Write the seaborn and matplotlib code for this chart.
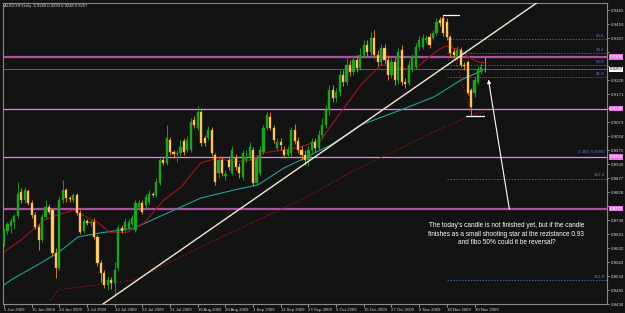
import matplotlib
matplotlib.use("Agg")
import matplotlib.pyplot as plt
import seaborn as sns
import numpy as np
import pandas as pd

# daily AUDCHF candles, one per bar (MT4 keeps Sunday bars)
opens = [0.8650, 0.8692, 0.8709, 0.8723, 0.8744, 0.8828, 0.8800, 0.8832, 0.8790, 0.8748,
         0.8706, 0.8660, 0.8741, 0.8776, 0.8765, 0.8615, 0.8562, 0.8800, 0.8835, 0.8807,
         0.8800, 0.8818, 0.8755, 0.8692, 0.8727, 0.8720, 0.8723, 0.8671, 0.8580, 0.8545,
         0.8503, 0.8520, 0.8510, 0.8562, 0.8702, 0.8695, 0.8702, 0.8716, 0.8695, 0.8776,
         0.8790, 0.8783, 0.8793, 0.8821, 0.8818, 0.8860, 0.8940, 0.8930, 0.9010, 0.8968,
         0.8961, 0.8965, 0.9007, 0.8975, 0.8975, 0.9080, 0.9052, 0.9108, 0.9017, 0.9017,
         0.9045, 0.8958, 0.8895, 0.8940, 0.8884, 0.8940, 0.8895, 0.8947, 0.8916, 0.8881,
         0.8940, 0.8951, 0.8975, 0.8860, 0.8895, 0.8968, 0.9052, 0.9091, 0.9052, 0.8982,
         0.9003, 0.8975, 0.8958, 0.8965, 0.9045, 0.9007, 0.8975, 0.8958, 0.8940, 0.8975,
         0.9003, 0.8982, 0.9028, 0.9063, 0.9115, 0.9185, 0.9157, 0.9178, 0.9238, 0.9213,
         0.9273, 0.9248, 0.9290, 0.9262, 0.9308, 0.9343, 0.9318, 0.9367, 0.9308, 0.9283,
         0.9332, 0.9290, 0.9238, 0.9283, 0.9220, 0.9325, 0.9213, 0.9210, 0.9255, 0.9266,
         0.9336, 0.9336, 0.9360, 0.9371, 0.9367, 0.9385, 0.9430, 0.9437, 0.9423, 0.9371,
         0.9318, 0.9301, 0.9325, 0.9273, 0.9283, 0.9185, 0.9175, 0.9213, 0.9248, 0.9260]
highs = [0.8702, 0.8723, 0.8737, 0.8751, 0.8863, 0.8842, 0.8846, 0.8839, 0.8800, 0.8758,
         0.8716, 0.8751, 0.8800, 0.8786, 0.8772, 0.8632, 0.8814, 0.8870, 0.8842, 0.8814,
         0.8825, 0.8825, 0.8765, 0.8737, 0.8734, 0.8730, 0.8737, 0.8678, 0.8590, 0.8555,
         0.8534, 0.8531, 0.8583, 0.8713, 0.8713, 0.8737, 0.8734, 0.8748, 0.8800, 0.8800,
         0.8800, 0.8821, 0.8835, 0.8828, 0.8877, 0.8947, 0.8947, 0.9063, 0.9021, 0.8975,
         0.8975, 0.9010, 0.9017, 0.9024, 0.9087, 0.9094, 0.9129, 0.9115, 0.9028, 0.9059,
         0.9056, 0.8965, 0.8954, 0.8951, 0.8905, 0.8954, 0.8989, 0.8961, 0.8930, 0.8975,
         0.8975, 0.9003, 0.8986, 0.8958, 0.8989, 0.9063, 0.9108, 0.9108, 0.9063, 0.9017,
         0.9017, 0.8989, 0.8989, 0.9056, 0.9066, 0.9021, 0.8989, 0.8975, 0.8989, 0.9017,
         0.9017, 0.9045, 0.9087, 0.9133, 0.9203, 0.9203, 0.9192, 0.9255, 0.9255, 0.9297,
         0.9290, 0.9308, 0.9308, 0.9332, 0.9360, 0.9360, 0.9388, 0.9395, 0.9325, 0.9346,
         0.9346, 0.9308, 0.9297, 0.9297, 0.9332, 0.9343, 0.9227, 0.9290, 0.9311, 0.9350,
         0.9374, 0.9381, 0.9378, 0.9385, 0.9395, 0.9437, 0.9441, 0.9448, 0.9437, 0.9378,
         0.9332, 0.9339, 0.9336, 0.9283, 0.9290, 0.9192, 0.9231, 0.9269, 0.9280, 0.9299]
lows = [0.8639, 0.8681, 0.8685, 0.8699, 0.8737, 0.8790, 0.8790, 0.8783, 0.8737, 0.8699,
        0.8625, 0.8653, 0.8734, 0.8751, 0.8604, 0.8527, 0.8555, 0.8790, 0.8793, 0.8793,
        0.8793, 0.8748, 0.8681, 0.8685, 0.8713, 0.8709, 0.8664, 0.8569, 0.8513, 0.8492,
        0.8485, 0.8489, 0.8464, 0.8555, 0.8685, 0.8688, 0.8695, 0.8709, 0.8688, 0.8765,
        0.8751, 0.8772, 0.8786, 0.8811, 0.8811, 0.8853, 0.8923, 0.8923, 0.8958, 0.8947,
        0.8933, 0.8954, 0.8958, 0.8968, 0.8968, 0.9052, 0.9045, 0.8989, 0.8989, 0.9010,
        0.8954, 0.8853, 0.8877, 0.8884, 0.8870, 0.8905, 0.8888, 0.8905, 0.8877, 0.8870,
        0.8933, 0.8940, 0.8849, 0.8853, 0.8888, 0.8961, 0.9045, 0.9045, 0.9000, 0.8975,
        0.8975, 0.8947, 0.8947, 0.8954, 0.8996, 0.8965, 0.8940, 0.8923, 0.8919, 0.8965,
        0.8968, 0.8975, 0.9017, 0.9052, 0.9098, 0.9143, 0.9143, 0.9164, 0.9199, 0.9203,
        0.9234, 0.9238, 0.9248, 0.9255, 0.9297, 0.9304, 0.9308, 0.9297, 0.9269, 0.9273,
        0.9276, 0.9220, 0.9227, 0.9203, 0.9206, 0.9203, 0.9192, 0.9203, 0.9248, 0.9259,
        0.9325, 0.9329, 0.9350, 0.9332, 0.9360, 0.9378, 0.9409, 0.9374, 0.9360, 0.9304,
        0.9297, 0.9290, 0.9266, 0.9255, 0.9168, 0.9098, 0.9161, 0.9206, 0.9241, 0.9248]
closes = [0.8695, 0.8716, 0.8727, 0.8744, 0.8821, 0.8800, 0.8835, 0.8790, 0.8748, 0.8706,
          0.8660, 0.8741, 0.8776, 0.8758, 0.8615, 0.8562, 0.8800, 0.8835, 0.8807, 0.8804,
          0.8818, 0.8755, 0.8688, 0.8727, 0.8720, 0.8723, 0.8671, 0.8580, 0.8545, 0.8503,
          0.8520, 0.8510, 0.8555, 0.8702, 0.8692, 0.8723, 0.8723, 0.8737, 0.8790, 0.8790,
          0.8758, 0.8811, 0.8821, 0.8818, 0.8863, 0.8940, 0.8930, 0.9017, 0.8968, 0.8961,
          0.8965, 0.8986, 0.8968, 0.9010, 0.9073, 0.9063, 0.9108, 0.9000, 0.9000, 0.9045,
          0.8965, 0.8863, 0.8940, 0.8895, 0.8891, 0.8916, 0.8975, 0.8916, 0.8895, 0.8965,
          0.8951, 0.8986, 0.8860, 0.8947, 0.8975, 0.9052, 0.9098, 0.9052, 0.9010, 0.9003,
          0.8993, 0.8958, 0.8975, 0.9045, 0.9007, 0.8975, 0.8958, 0.8940, 0.8975, 0.9003,
          0.8982, 0.9028, 0.9063, 0.9115, 0.9185, 0.9157, 0.9178, 0.9238, 0.9213, 0.9273,
          0.9248, 0.9290, 0.9262, 0.9308, 0.9343, 0.9318, 0.9367, 0.9308, 0.9283, 0.9332,
          0.9290, 0.9238, 0.9283, 0.9220, 0.9318, 0.9213, 0.9206, 0.9273, 0.9301, 0.9336,
          0.9360, 0.9367, 0.9367, 0.9343, 0.9385, 0.9423, 0.9420, 0.9385, 0.9371, 0.9315,
          0.9308, 0.9325, 0.9273, 0.9269, 0.9175, 0.9126, 0.9220, 0.9255, 0.9266, 0.9257]

date_ticks = [0, 8, 16, 24, 32, 40, 48, 56, 64, 72, 80, 88, 96, 104, 112, 120, 128, 136]
date_labels = ["5 Jun 2009", "15 Jun 2009", "24 Jun 2009", "3 Jul 2009", "13 Jul 2009",
               "22 Jul 2009", "31 Jul 2009", "10 Aug 2009", "20 Aug 2009", "1 Sep 2009",
               "11 Sep 2009", "23 Sep 2009", "5 Oct 2009", "15 Oct 2009", "27 Oct 2009",
               "6 Nov 2009", "18 Nov 2009", "30 Nov 2009"]

# moving averages
fast_ma_x = [0, 4.9, 11.6, 15.6, 20.2, 24.3, 27.2, 30.9, 35.8, 40.5, 46.2, 51.2, 56.9, 61.8,
             66.5, 71.4, 75.1, 80.9, 85.8, 91.6, 97.4, 103.2, 109, 114.7, 118.5, 124.3,
             127.7, 132.1, 134.1, 137, 139.3]
fast_ma_y = [0.8618, 0.8660, 0.8730, 0.8748, 0.8765, 0.8737, 0.8720, 0.8685, 0.8688, 0.8720,
             0.8800, 0.8846, 0.8930, 0.8947, 0.8933, 0.8940, 0.8965, 0.8975, 0.8986, 0.9010,
             0.9108, 0.9203, 0.9273, 0.9262, 0.9255, 0.9315, 0.9339, 0.9325, 0.9301, 0.9283,
             0.9280]
mid_ma_x = [0, 2, 8.7, 15.6, 21.4, 28, 37.6, 47.4, 56.9, 66.5, 73.4, 80.9, 85.8, 94.5,
            103.2, 114.7, 124.3, 132.1, 138.5]
mid_ma_y = [0.8503, 0.8520, 0.8566, 0.8615, 0.8671, 0.8685, 0.8702, 0.8755, 0.8807, 0.8835,
            0.8853, 0.8912, 0.8940, 0.8993, 0.9063, 0.9115, 0.9161, 0.9220, 0.9255]
slow_ma_x = [13.6, 15.6, 30.9, 37.6, 56.9, 85.8, 100.3, 114.7, 125.4, 134.1, 139.3]
slow_ma_y = [0.8450, 0.8485, 0.8510, 0.8520, 0.8636, 0.8800, 0.8898, 0.8982, 0.9045, 0.9091,
             0.9108]

# zigzag from the November top to the low
zig_x = [127, 135, 139]
zig_y = [0.9448, 0.9098, 0.9115]

trend_x = [28.6, 155.2]
trend_y = [0.8436, 0.9500]

fib_high = 0.9448
fib_low = 0.9094
fib_ratios = [23.6, 38.2, 50.0, 61.8, 161.8, 261.8]
fib_labels = ["23.6", "38.2", "50.0", "61.8", "161.8", "261.8"]

levels = [0.9300, 0.9120, 0.8950, 0.8770]
level_colors = ["#a9509f", "#f27ff0", "#f27ff0", "#a9509f"]
level_widths = [1.6, 0.9, 0.9, 1.6]
last_price = 0.9257

tick_top = 0.9465
tick_step = 0.0049

note = ("The today's candle is not finished yet, but if the candle\n"
        "finishes as a small shooting star at the rezistance 0.93\n"
        "and fibo 50% could it be reversal?")

bg = "#131313"
sns.set_theme(style="dark", rc={"axes.facecolor": bg, "figure.facecolor": bg})
plt.rcParams['font.family'] = ['Liberation Sans', 'DejaVu Sans']

df = pd.DataFrame({"open": opens, "high": highs, "low": lows, "close": closes})
df["bar"] = np.arange(len(df))
df["up"] = df["close"] >= df["open"]

fig = plt.figure(figsize=(6.25, 3.13), dpi=100)
ax = fig.add_axes([3 / 625, 9 / 313, 604 / 625, 301 / 313])
ax.set_xlim(-0.3, 174.3)
ax.set_ylim(0.8436, 0.94895)

# horizontal levels
for lv, col, lw in zip(levels, level_colors, level_widths):
    ax.axhline(lv, color=col, lw=lw, zorder=1)
ax.axhline(last_price, color="#6a6f74", lw=0.6, zorder=1)

# fibo levels
for r, lab in zip(fib_ratios, fib_labels):
    lv = fib_high - r / 100 * (fib_high - fib_low)
    ax.plot([128, 174.3], [lv, lv], color="#3f61a8", lw=0.7, ls=(0, (1.5, 1.5)), zorder=1)
    ax.text(173.6, lv + 0.0004, lab, color="#5a7fd0", fontsize=3.2, ha="right", va="bottom")
ax.text(173.6, levels[2] + 0.0013, "1.382, 0.8950", color="#5a7fd0", fontsize=3.2,
        ha="right", va="bottom")

# moving averages
sns.lineplot(x=mid_ma_x, y=mid_ma_y, ax=ax, color="#23a196", lw=0.8, sort=False, zorder=2)
sns.lineplot(x=fast_ma_x, y=fast_ma_y, ax=ax, color="#a3141a", lw=0.8, sort=False, zorder=2)
ax.plot(slow_ma_x, slow_ma_y, color="#a3141a", lw=0.8, ls=(0, (1.2, 1.6)), zorder=2)
ax.plot(zig_x, zig_y, color="#a3141a", lw=0.8, ls=(0, (1.2, 1.6)), zorder=2)

# candles
up = df[df["up"]]
dn = df[~df["up"]]
ax.vlines(up["bar"], up["low"], up["high"], color="#1f9a1f", lw=0.7, zorder=3)
ax.vlines(dn["bar"], dn["low"], dn["high"], color="#d4821a", lw=0.7, zorder=3)
ax.bar(up["bar"], up["close"] - up["open"], bottom=up["open"], width=0.62,
       color="#22a322", edgecolor="#1f9a1f", lw=0.3, zorder=4)
ax.bar(dn["bar"], dn["open"] - dn["close"], bottom=dn["close"], width=0.62,
       color="#ffd27a", edgecolor="#e09a30", lw=0.3, zorder=4)

# trend line
ax.plot(trend_x, trend_y, color="#f3ead2", lw=1.0, zorder=5)

# white marks at the high and the low
ax.plot([127, 131.6], [fib_high, fib_high], color="white", lw=0.9, zorder=5)
ax.plot([133.5, 138.7], [fib_low, fib_low], color="white", lw=0.9, zorder=5)

# note and arrow
ax.annotate("", xy=(139.9, 0.9231), xytext=(146.2, 0.8758),
            arrowprops=dict(arrowstyle="-|>", color="white", lw=0.8, mutation_scale=5),
            zorder=6)
ax.text(145.2, 0.8681, note, color="white", fontsize=4.7, ha="center", va="center",
        linespacing=1.3, zorder=6)

# axes look
for s in ax.spines.values():
    s.set_color("#8a8a8a")
    s.set_linewidth(0.8)
ax.grid(False)
ax.yaxis.tick_right()
boxed = levels + [last_price]
yt = [tick_top - tick_step * k for k in range(22)]
ylabs = ["" if min(abs(v - b) for b in boxed) < 0.0021 else "%.4f" % v for v in yt]
ax.set_yticks(yt)
ax.set_yticklabels(ylabs)
ax.tick_params(axis="y", colors="#cfcfcf", labelsize=3.2, length=1.5, width=0.5, pad=1,
               direction="out", right=True)
ax.set_xticks(date_ticks)
ax.set_xticklabels(date_labels)
ax.tick_params(axis="x", colors="#cfcfcf", labelsize=3.1, length=2, width=0.5, pad=1,
               direction="out", bottom=True)
for t in ax.get_xticklabels():
    t.set_ha("left")
ax.set_xlabel("")
ax.set_ylabel("")

# price boxes on the scale
tr = ax.get_yaxis_transform()
for lv in levels:
    ax.text(1.004, lv, "%.4f" % lv, transform=tr, fontsize=3.2, color="white", va="center",
            ha="left", bbox=dict(boxstyle="square,pad=0.15", fc="#e27ae0", ec="none"),
            zorder=7, clip_on=False)
ax.text(1.004, last_price, "%.4f" % last_price, transform=tr, fontsize=3.2, color="black",
        va="center", ha="left", bbox=dict(boxstyle="square,pad=0.15", fc="white", ec="none"),
        zorder=7, clip_on=False)

fig.text(4 / 625, 1 - 6 / 313, "AUDCHF,Daily  %.4f %.4f %.4f %.4f" %
         (opens[-1], highs[-1], lows[-1], closes[-1]),
         color="#dcdcdc", fontsize=3.0, va="center", ha="left")

fig.savefig("out.png", dpi=100, facecolor=bg)
